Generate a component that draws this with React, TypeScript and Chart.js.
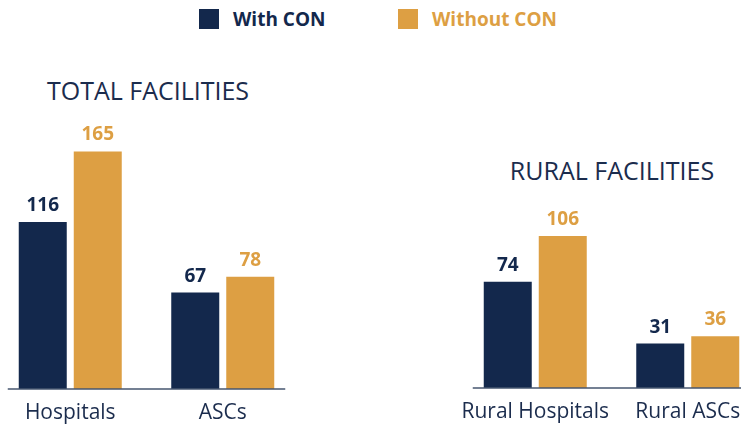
import React, { useEffect, useRef } from "react";
import { Chart, registerables } from "chart.js";

Chart.register(...registerables);

const seriesNames = ["With CON", "Without CON"];
const panelTitles = ["TOTAL FACILITIES", "RURAL FACILITIES"];
const totalCategories = ["Hospitals", "ASCs"];
const totalWithCon = [116, 67];
const totalWithoutCon = [165, 78];
const ruralCategories = ["Rural Hospitals", "Rural ASCs"];
const ruralWithCon = [74, 31];
const ruralWithoutCon = [106, 36];

const NAVY = "#13284c";
const GOLD = "#dd9f43";
const TEXT = "#1b2c4d";
const AXIS = "#46566f";
const FONT = "'Open Sans', 'Noto Sans', sans-serif";

const valueLabels = {
  id: "valueLabels",
  afterDatasetsDraw(chart: any) {
    const ctx = chart.ctx;
    ctx.save();
    ctx.font = `bold 19px ${FONT}`;
    ctx.textAlign = "center";
    ctx.textBaseline = "alphabetic";
    chart.data.datasets.forEach((ds: any, i: number) => {
      const meta = chart.getDatasetMeta(i);
      ctx.fillStyle = ds.backgroundColor;
      meta.data.forEach((bar: any, j: number) => {
        ctx.fillText(String(ds.data[j]), bar.x, bar.y - 11);
      });
    });
    ctx.restore();
  },
};

const baseLine = {
  id: "baseLine",
  afterDatasetsDraw(chart: any) {
    const ctx = chart.ctx;
    const xs = chart.scales.x;
    const ys = chart.scales.y;
    const n = chart.data.labels.length;
    const x0 = xs.getPixelForValue(0) - 62.5;
    const x1 = xs.getPixelForValue(n - 1) + 62.5;
    const yy = ys.getPixelForValue(0);
    ctx.save();
    ctx.strokeStyle = AXIS;
    ctx.lineWidth = 1.5;
    ctx.beginPath();
    ctx.moveTo(x0, yy);
    ctx.lineTo(x1, yy);
    ctx.stroke();
    ctx.restore();
  },
};

type PanelProps = {
  labels: string[];
  a: number[];
  b: number[];
  left: number;
  bottomPad: number;
};

const SIDE = 15;

function Panel({ labels, a, b, left, bottomPad }: PanelProps) {
  const ref = useRef<HTMLCanvasElement | null>(null);
  useEffect(() => {
    if (!ref.current) return;
    const chart = new Chart(ref.current, {
      type: "bar",
      data: {
        labels,
        datasets: [
          { label: seriesNames[0], data: a, backgroundColor: NAVY },
          { label: seriesNames[1], data: b, backgroundColor: GOLD },
        ],
      },
      options: {
        responsive: false,
        animation: false,
        events: [],
        layout: { padding: { top: 101, bottom: bottomPad, left: SIDE, right: SIDE } },
        datasets: {
          bar: { categoryPercentage: 110 / 152.5, barPercentage: 48 / 55 },
        },
        plugins: { legend: { display: false }, tooltip: { enabled: false }, title: { display: false } },
        scales: {
          x: {
            grid: { display: false, drawTicks: false },
            border: { display: false },
            ticks: { color: TEXT, font: { family: FONT, size: 21 }, padding: 11, maxRotation: 0, autoSkip: false },
          },
          y: { display: false, min: 0, max: 200 },
        },
      },
      plugins: [valueLabels, baseLine],
    });
    return () => chart.destroy();
  }, []);
  const w = 305 + SIDE * 2;
  return (
    <canvas
      ref={ref}
      width={w}
      height={440}
      style={{ position: "absolute", left: left - SIDE, top: 0, width: w, height: 440 }}
    />
  );
}

export default function App() {
  const titleStyle: React.CSSProperties = {
    position: "absolute",
    fontFamily: FONT,
    fontSize: 25,
    lineHeight: "25px",
    color: TEXT,
    whiteSpace: "nowrap",
    transform: "translateX(-50%)",
  };
  const legendText: React.CSSProperties = {
    position: "absolute",
    fontFamily: FONT,
    fontWeight: 700,
    fontSize: 19,
    lineHeight: "19px",
    top: 10,
    whiteSpace: "nowrap",
  };
  return (
    <div
      style={{
        position: "fixed",
        left: 0,
        top: 0,
        width: 741,
        height: 428,
        overflow: "hidden",
        background: "#ffffff",
      }}
    >
      <div style={{ position: "absolute", left: 199, top: 9, width: 20, height: 20, background: NAVY }} />
      <div style={{ ...legendText, left: 233, color: NAVY }}>{seriesNames[0]}</div>
      <div style={{ position: "absolute", left: 398, top: 9, width: 20, height: 20, background: GOLD }} />
      <div style={{ ...legendText, left: 432, color: GOLD }}>{seriesNames[1]}</div>

      <div style={{ ...titleStyle, left: 148, top: 78 }}>{panelTitles[0]}</div>
      <div style={{ ...titleStyle, left: 612, top: 158 }}>{panelTitles[1]}</div>

      <Panel labels={totalCategories} a={totalWithCon} b={totalWithoutCon} left={-6} bottomPad={3.8} />
      <Panel labels={ruralCategories} a={ruralWithCon} b={ruralWithoutCon} left={459} bottomPad={4.8} />
    </div>
  );
}
